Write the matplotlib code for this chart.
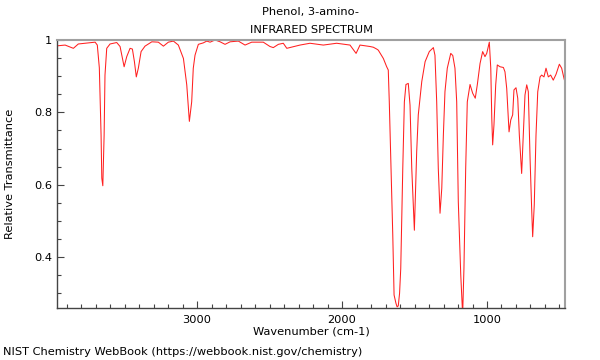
import matplotlib
matplotlib.use("Agg")
import matplotlib.pyplot as plt
from matplotlib.ticker import MultipleLocator, FixedLocator, FuncFormatter

title_name = "Phenol, 3-amino-"
title_kind = "INFRARED SPECTRUM"
x_label = "Wavenumber (cm-1)"
y_label = "Relative Transmittance"
footer = "NIST Chemistry WebBook (https://webbook.nist.gov/chemistry)"

wavenumber = [
    3961, 3910, 3853, 3819, 3750, 3703, 3688, 3674, 3662, 3657, 3650, 3641, 3635,
    3623, 3600, 3554, 3531, 3503, 3485, 3462, 3446, 3432, 3419, 3405, 3386, 3359,
    3312, 3267, 3232, 3198, 3163, 3129, 3094, 3071, 3053, 3037, 3026, 3014, 2991,
    2957, 2933, 2910, 2876, 2841, 2807, 2772, 2715, 2669, 2623, 2543, 2497, 2474,
    2439, 2405, 2381, 2290, 2221, 2129, 2037, 1945, 1903, 1876, 1807, 1784, 1761,
    1750, 1715, 1692, 1687, 1681, 1674, 1662, 1650, 1641, 1628, 1620, 1612, 1603,
    1595, 1581, 1570, 1559, 1543, 1531, 1519, 1501, 1485, 1474, 1450, 1427, 1398,
    1370, 1359, 1347, 1336, 1324, 1312, 1301, 1290, 1274, 1250, 1236, 1221, 1209,
    1198, 1181, 1168, 1159, 1147, 1136, 1117, 1099, 1081, 1067, 1048, 1030, 1014,
    1002, 984, 974, 967, 961, 952, 940, 929, 910, 887, 876, 864, 853, 848, 836,
    823, 814, 800, 788, 777, 761, 750, 738, 726, 715, 703, 692, 685, 674, 662,
    650, 634, 623, 607, 593, 577, 561, 543, 524, 501, 485, 469, 460,
]
transmittance = [
    0.984, 0.986, 0.977, 0.989, 0.992, 0.994, 0.986, 0.923, 0.737, 0.618, 0.597, 0.737, 0.903,
    0.977, 0.989, 0.993, 0.982, 0.926, 0.954, 0.977, 0.975, 0.940, 0.898, 0.922, 0.968, 0.983,
    0.995, 0.994, 0.983, 0.994, 0.997, 0.986, 0.949, 0.876, 0.775, 0.829, 0.922, 0.958, 0.988,
    0.992, 0.997, 0.994, 1.000, 0.995, 0.988, 0.995, 0.997, 0.986, 0.994, 0.994, 0.982, 0.979,
    0.988, 0.991, 0.977, 0.986, 0.991, 0.986, 0.991, 0.986, 0.963, 0.986, 0.982, 0.980, 0.975,
    0.972, 0.949, 0.926, 0.922, 0.917, 0.829, 0.645, 0.461, 0.295, 0.272, 0.262, 0.265, 0.300,
    0.368, 0.645, 0.829, 0.877, 0.880, 0.820, 0.645, 0.474, 0.691, 0.793, 0.885, 0.940, 0.968,
    0.979, 0.958, 0.829, 0.645, 0.521, 0.590, 0.737, 0.857, 0.922, 0.963, 0.957, 0.922, 0.829,
    0.553, 0.350, 0.240, 0.369, 0.645, 0.829, 0.877, 0.853, 0.839, 0.876, 0.935, 0.968, 0.954,
    0.963, 0.994, 0.922, 0.783, 0.710, 0.765, 0.876, 0.931, 0.926, 0.924, 0.912, 0.866, 0.783, 0.746, 0.779,
    0.793, 0.862, 0.868, 0.839, 0.737, 0.631, 0.737, 0.848, 0.876, 0.857, 0.673, 0.534, 0.456, 0.544, 0.737,
    0.857, 0.898, 0.903, 0.898, 0.922, 0.898, 0.903, 0.889, 0.905, 0.933, 0.922, 0.894, 0.880,
]

x_major = [3000, 2000, 1000]
y_major = [0.4, 0.6, 0.8, 1.0]

fs = 8.2
fig = plt.figure(figsize=(6, 3.6), dpi=100)
ax = fig.add_axes([57 / 600, 1 - 308 / 360, (565 - 57) / 600, (308 - 40) / 360])

ax.plot(wavenumber, transmittance, color="#ff2020", lw=0.75)
ax.set_xlim(3966, 462)
ax.set_ylim(0.259, 1.0)

ax.xaxis.set_major_locator(FixedLocator(x_major))
ax.xaxis.set_minor_locator(MultipleLocator(100))
ax.yaxis.set_major_locator(FixedLocator(y_major))
ax.yaxis.set_minor_locator(MultipleLocator(0.05))
ax.yaxis.set_major_formatter(FuncFormatter(lambda v, p: "1" if abs(v - 1) < 1e-9 else f"{v:.1f}"))

ax.tick_params(which="both", direction="in", colors="#444444", labelcolor="black", labelsize=fs)
ax.tick_params(which="major", length=5, width=0.8)
ax.tick_params(which="minor", length=3, width=0.8)
ax.tick_params(axis="x", pad=5)

for s in ["left", "bottom"]:
    ax.spines[s].set_color("#444444")
    ax.spines[s].set_linewidth(1.0)
for s in ["top", "right"]:
    ax.spines[s].set_color("#a0a0a0")
    ax.spines[s].set_linewidth(1.5)

fig.text(311 / 600, 1 - 332 / 360, x_label, ha="center", va="center", fontsize=fs)
fig.text(10 / 600, 1 - 174 / 360, y_label, rotation=90, ha="center", va="center", fontsize=fs)
fig.text(311 / 600, 1 - 12 / 360, title_name, ha="center", va="center", fontsize=fs)
fig.text(311 / 600, 1 - 30 / 360, title_kind, ha="center", va="center", fontsize=fs)
fig.text(3 / 600, 1 - 352 / 360, footer, ha="left", va="center", fontsize=fs)

fig.savefig("out.png", dpi=100)
